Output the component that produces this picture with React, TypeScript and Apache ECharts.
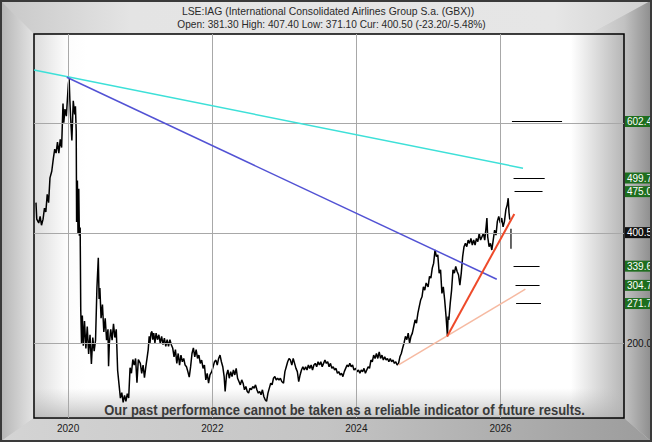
import React, { useEffect, useRef } from 'react';
import * as echarts from 'echarts';

const W = 652;
const H = 442;

// ---------- text ----------
const titleLine1 = 'LSE:IAG (International Consolidated Airlines Group S.a. (GBX))';
const titleLine2 = 'Open: 381.30 High: 407.40 Low: 371.10 Cur: 400.50 (-23.20/-5.48%)';
const disclaimer = 'Our past performance cannot be taken as a reliable indicator of future results.';

// ---------- axes ----------
const xMin = '2019-07-12';
const xMax = '2027-09-19';
const yMin = 63.8;
const yMax = 761.3;
const yearTicks = ['2020', '2022', '2024', '2026'];
const gridValues = [200, 400, 600];

// ---------- price (GBX) ----------
const prices2019: [string, number][] = [
  ['2019-07-22', 455], ['2019-07-26', 425], ['2019-08-05', 418], ['2019-08-12', 430], ['2019-08-19', 414],
  ['2019-08-27', 425], ['2019-09-03', 445], ['2019-09-10', 438], ['2019-09-17', 470], ['2019-09-24', 455],
  ['2019-10-01', 500], ['2019-10-10', 512], ['2019-10-18', 535], ['2019-10-25', 552], ['2019-11-01', 545],
  ['2019-11-08', 565], ['2019-11-15', 545], ['2019-11-22', 570], ['2019-11-29', 555], ['2019-12-06', 635],
  ['2019-12-10', 600], ['2019-12-16', 625], ['2019-12-23', 612],
];
const prices2020: [string, number][] = [
  ['2020-01-02', 670], ['2020-01-06', 681], ['2020-01-10', 640], ['2020-01-15', 600], ['2020-01-20', 568],
  ['2020-01-27', 640], ['2020-02-03', 615], ['2020-02-07', 630], ['2020-02-11', 585], ['2020-02-13', 420],
  ['2020-02-17', 495], ['2020-02-20', 400], ['2020-02-24', 480], ['2020-02-27', 395], ['2020-03-02', 410],
  ['2020-03-05', 260], ['2020-03-09', 200], ['2020-03-13', 250], ['2020-03-18', 195], ['2020-03-24', 240],
  ['2020-03-31', 190], ['2020-04-07', 230], ['2020-04-14', 180], ['2020-04-21', 215], ['2020-04-28', 162],
  ['2020-05-05', 210], ['2020-05-12', 185], ['2020-05-19', 205], ['2020-05-26', 300], ['2020-06-02', 355],
  ['2020-06-06', 280], ['2020-06-10', 300], ['2020-06-16', 245], ['2020-06-23', 270], ['2020-06-30', 220],
  ['2020-07-07', 245], ['2020-07-14', 205], ['2020-07-21', 225], ['2020-07-24', 158], ['2020-07-28', 200],
  ['2020-08-04', 225], ['2020-08-11', 205], ['2020-08-18', 235], ['2020-08-25', 210], ['2020-09-01', 225],
  ['2020-09-08', 150], ['2020-09-15', 125], ['2020-09-22', 100], ['2020-09-29', 110], ['2020-10-06', 92],
  ['2020-10-13', 105], ['2020-10-20', 94], ['2020-10-27', 108], ['2020-11-03', 100], ['2020-11-10', 155],
  ['2020-11-17', 145], ['2020-11-24', 170], ['2020-12-01', 160], ['2020-12-08', 172], ['2020-12-15', 128],
  ['2020-12-22', 170],
];
const prices2021: [string, number][] = [
  ['2021-01-01', 163], ['2021-01-08', 145], ['2021-01-15', 160], ['2021-01-22', 137], ['2021-01-29', 157],
  ['2021-02-05', 175], ['2021-02-10', 188], ['2021-02-15', 212], ['2021-02-19', 200], ['2021-02-24', 218],
  ['2021-03-01', 221], ['2021-03-05', 206], ['2021-03-10', 218], ['2021-03-16', 200], ['2021-03-22', 218],
  ['2021-03-29', 206], ['2021-04-05', 215], ['2021-04-12', 200], ['2021-04-19', 212], ['2021-04-26', 197],
  ['2021-05-03', 209], ['2021-05-10', 194], ['2021-05-17', 206], ['2021-05-24', 194], ['2021-05-31', 206],
  ['2021-06-07', 197], ['2021-06-14', 191], ['2021-06-21', 175], ['2021-06-28', 188], ['2021-07-05', 163],
  ['2021-07-12', 181], ['2021-07-19', 160], ['2021-07-26', 178], ['2021-08-02', 166], ['2021-08-09', 172],
  ['2021-08-16', 160], ['2021-08-23', 157], ['2021-08-30', 148], ['2021-09-06', 138], ['2021-09-13', 157],
  ['2021-09-20', 181], ['2021-09-27', 191], ['2021-10-04', 175], ['2021-10-11', 188], ['2021-10-18', 172],
  ['2021-10-25', 178], ['2021-11-01', 163], ['2021-11-08', 169], ['2021-11-15', 154], ['2021-11-22', 160],
  ['2021-11-29', 133], ['2021-12-06', 145], ['2021-12-13', 127], ['2021-12-20', 142], ['2021-12-29', 148],
];
const prices2022: [string, number][] = [
  ['2022-01-05', 157], ['2022-01-12', 166], ['2022-01-19', 169], ['2022-01-26', 160], ['2022-02-02', 172],
  ['2022-02-09', 178], ['2022-02-16', 166], ['2022-02-23', 157], ['2022-03-02', 139], ['2022-03-07', 112],
  ['2022-03-14', 142], ['2022-03-21', 151], ['2022-03-28', 136], ['2022-04-04', 148], ['2022-04-11', 139],
  ['2022-04-18', 151], ['2022-04-25', 142], ['2022-05-02', 154], ['2022-05-09', 136], ['2022-05-16', 130],
  ['2022-05-23', 124], ['2022-05-30', 133], ['2022-06-06', 127], ['2022-06-13', 115], ['2022-06-20', 121],
  ['2022-06-27', 112], ['2022-07-04', 109], ['2022-07-11', 118], ['2022-07-18', 115], ['2022-07-25', 121],
  ['2022-08-01', 118], ['2022-08-08', 124], ['2022-08-15', 115], ['2022-08-22', 109], ['2022-08-29', 112],
  ['2022-09-05', 106], ['2022-09-12', 115], ['2022-09-19', 103], ['2022-09-26', 97], ['2022-10-03', 94],
  ['2022-10-10', 109], ['2022-10-17', 118], ['2022-10-24', 127], ['2022-10-31', 124], ['2022-11-07', 136],
  ['2022-11-14', 139], ['2022-11-21', 133], ['2022-11-28', 136], ['2022-12-05', 133], ['2022-12-12', 136],
  ['2022-12-19', 130], ['2022-12-28', 127],
];
const prices2023: [string, number][] = [
  ['2023-01-04', 148], ['2023-01-11', 157], ['2023-01-18', 166], ['2023-01-25', 172], ['2023-02-01', 169],
  ['2023-02-08', 160], ['2023-02-15', 172], ['2023-02-22', 163], ['2023-03-01', 154], ['2023-03-08', 148],
  ['2023-03-15', 130], ['2023-03-22', 142], ['2023-03-29', 151], ['2023-04-05', 157], ['2023-04-12', 151],
  ['2023-04-19', 157], ['2023-04-26', 151], ['2023-05-03', 160], ['2023-05-10', 154], ['2023-05-17', 160],
  ['2023-05-24', 151], ['2023-05-31', 160], ['2023-06-07', 163], ['2023-06-14', 157], ['2023-06-21', 166],
  ['2023-06-28', 160], ['2023-07-05', 166], ['2023-07-12', 157], ['2023-07-19', 163], ['2023-07-26', 169],
  ['2023-08-02', 163], ['2023-08-09', 166], ['2023-08-16', 157], ['2023-08-23', 163], ['2023-08-30', 154],
  ['2023-09-06', 157], ['2023-09-13', 151], ['2023-09-20', 154], ['2023-09-27', 145], ['2023-10-04', 148],
  ['2023-10-11', 142], ['2023-10-18', 145], ['2023-10-25', 139], ['2023-11-01', 148], ['2023-11-08', 154],
  ['2023-11-15', 160], ['2023-11-22', 157], ['2023-11-29', 163], ['2023-12-06', 157], ['2023-12-13', 160],
  ['2023-12-20', 151], ['2023-12-29', 154],
];
const prices2024: [string, number][] = [
  ['2024-01-05', 148], ['2024-01-12', 151], ['2024-01-19', 145], ['2024-01-26', 151], ['2024-02-02', 148],
  ['2024-02-09', 154], ['2024-02-16', 145], ['2024-02-23', 151], ['2024-03-01', 157], ['2024-03-08', 154],
  ['2024-03-15', 169], ['2024-03-22', 166], ['2024-03-29', 178], ['2024-04-05', 172], ['2024-04-12', 181],
  ['2024-04-19', 172], ['2024-04-26', 184], ['2024-05-03', 172], ['2024-05-10', 178], ['2024-05-17', 169],
  ['2024-05-24', 175], ['2024-05-31', 169], ['2024-06-07', 172], ['2024-06-14', 166], ['2024-06-21', 172],
  ['2024-06-28', 166], ['2024-07-05', 169], ['2024-07-12', 163], ['2024-07-19', 166], ['2024-07-26', 160],
  ['2024-08-02', 163], ['2024-08-09', 175], ['2024-08-16', 181], ['2024-08-23', 191], ['2024-08-30', 200],
  ['2024-09-06', 212], ['2024-09-13', 206], ['2024-09-20', 218], ['2024-09-27', 200], ['2024-10-04', 212],
  ['2024-10-11', 218], ['2024-10-18', 230], ['2024-10-25', 242], ['2024-11-01', 236], ['2024-11-08', 254],
  ['2024-11-15', 266], ['2024-11-22', 278], ['2024-11-29', 284], ['2024-12-06', 302], ['2024-12-13', 296],
  ['2024-12-20', 309], ['2024-12-30', 302],
];
const prices2025: [string, number][] = [
  ['2025-01-06', 321], ['2025-01-13', 318], ['2025-01-20', 336], ['2025-01-27', 345], ['2025-02-03', 369],
  ['2025-02-10', 357], ['2025-02-17', 360], ['2025-02-24', 327], ['2025-03-03', 333], ['2025-03-10', 290],
  ['2025-03-17', 302], ['2025-03-24', 278], ['2025-03-31', 248], ['2025-04-07', 212], ['2025-04-10', 248],
  ['2025-04-14', 242], ['2025-04-21', 272], ['2025-04-28', 296], ['2025-05-05', 333], ['2025-05-12', 327],
  ['2025-05-19', 339], ['2025-05-26', 330], ['2025-06-02', 324], ['2025-06-09', 305], ['2025-06-16', 327],
  ['2025-06-23', 357], ['2025-06-30', 375], ['2025-07-07', 381], ['2025-07-14', 375], ['2025-07-21', 387],
  ['2025-07-28', 381], ['2025-08-04', 390], ['2025-08-11', 378], ['2025-08-18', 387], ['2025-08-25', 378],
  ['2025-09-01', 390], ['2025-09-08', 384], ['2025-09-15', 399], ['2025-09-22', 387], ['2025-09-29', 393],
  ['2025-10-06', 399], ['2025-10-13', 387], ['2025-10-20', 411], ['2025-10-24', 427], ['2025-10-28', 393],
  ['2025-11-04', 375], ['2025-11-11', 381], ['2025-11-18', 369], ['2025-11-25', 387], ['2025-12-02', 405],
  ['2025-12-09', 396], ['2025-12-16', 421], ['2025-12-23', 430], ['2025-12-31', 418],
];
const prices2026: [string, number][] = [
  ['2026-01-07', 427], ['2026-01-14', 411], ['2026-01-21', 421], ['2026-01-28', 442], ['2026-02-04', 451],
  ['2026-02-09', 463], ['2026-02-13', 437], ['2026-02-17', 424],
];

// last session (Open / High / Low / Close)
const lastDate = '2026-02-23';
const lastOHLC = { open: 381.3, high: 407.4, low: 371.1, close: 400.5 };

// ---------- trend lines ----------
const cyanTrend: [string, number][] = [['2019-07-12', 695.9], ['2026-04-25', 517.5]];
const blueTrend: [string, number][] = [['2019-12-25', 682.7], ['2025-12-13', 315.9]];
const redTrend: [string, number][] = [['2025-04-05', 211.7], ['2026-03-12', 434.5]];
const salmonTrend: [string, number][] = [['2024-08-02', 160.4], ['2026-05-07', 297.8]];

// ---------- target levels ----------
const levelValues = [602.4, 499.7, 475.0, 339.6, 304.7, 271.7];
const levelStarts = ['2026-02-28', '2026-03-08', '2026-03-13', '2026-03-08', '2026-03-18', '2026-03-21'];
const levelEnds = ['2026-11-09', '2026-08-13', '2026-08-02', '2026-07-18', '2026-07-18', '2026-07-25'];
const currentPrice = 400.5;

// ---------- helpers ----------
const t = (s: string) => {
  const [y, m, d] = s.split('-').map(Number);
  return new Date(y, m - 1, d).getTime();
};
const toData = (arr: [string, number][]) => arr.map(([d, v]) => [t(d), v]);

const FONT = '"Liberation Sans", Arial, sans-serif';
const HIDDEN_LINE = { color: 'rgba(0,0,0,0)', width: 1, type: 'solid' };

export default function App() {
  const ref = useRef<HTMLDivElement>(null);

  useEffect(() => {
    document.body.style.margin = '0';
    const el = ref.current!;
    const chart = echarts.init(el, null, { renderer: 'svg', width: W, height: H });

    const ctx = document.createElement('canvas').getContext('2d')!;
    ctx.font = '11px "Liberation Sans"';
    const fs1 = (11 * 293) / ctx.measureText(titleLine1).width;
    const fs2 = (11 * 309) / ctx.measureText(titleLine2).width;
    ctx.font = 'bold 14px "Liberation Sans"';
    const discScale = 481 / ctx.measureText(disclaimer).width;

    const LG = echarts.graphic.LinearGradient;

    const allPrices = [
      ...prices2019, ...prices2020, ...prices2021, ...prices2022,
      ...prices2023, ...prices2024, ...prices2025, ...prices2026,
    ];

    const trendSeries = (name: string, data: [string, number][], color: string, width: number) => ({
      type: 'line',
      name,
      data: toData(data),
      showSymbol: false,
      symbol: 'none',
      silent: true,
      z: 5,
      lineStyle: { color, width },
    });

    const boxLabel = (v: number, bg: string) => ({
      show: true, position: 'end', formatter: v.toFixed(1), color: '#fff',
      backgroundColor: bg, padding: [1, 3, 0, 2], fontSize: 10, lineHeight: 10,
      fontFamily: FONT, distance: 1, opacity: 1,
    });

    const option: any = {
      animation: false,
      grid: {
        left: 34,
        top: 34,
        right: 28,
        bottom: 24,
        show: true,
        borderColor: '#000',
        borderWidth: 1.5,
        backgroundColor: new LG(0, 0, 1, 0, [
          { offset: 0, color: '#dcdcdc' },
          { offset: 0.055, color: '#fcfcfc' },
          { offset: 0.09, color: '#ffffff' },
          { offset: 0.91, color: '#ffffff' },
          { offset: 1, color: '#b6b6b6' },
        ]),
      },
      xAxis: {
        type: 'time',
        min: t(xMin),
        max: t(xMax),
        axisLine: { show: false },
        axisTick: { show: false },
        axisLabel: { show: false },
        splitLine: { show: false },
      },
      yAxis: {
        type: 'value',
        min: yMin,
        max: yMax,
        axisLine: { show: false },
        axisTick: { show: false },
        axisLabel: { show: false },
        splitLine: { show: false },
      },
      graphic: [
        { type: 'rect', z: -5, shape: { x: 0, y: 0, width: W, height: H }, style: { fill: '#cfcfcf' } },
        {
          type: 'polygon', z: -4,
          shape: { points: [[0, 0], [W, 0], [590, 34], [34, 34]] },
          style: {
            fill: new LG(0, 0, 1, 0, [
              { offset: 0, color: '#c8c8c8' },
              { offset: 0.2, color: '#e4e4e4' },
              { offset: 0.85, color: '#e6e6e6' },
              { offset: 1, color: '#d0d0d0' },
            ]),
          },
        },
        {
          type: 'polygon', z: -4,
          shape: { points: [[0, 0], [34, 34], [34, 418], [0, H]] },
          style: {
            fill: new LG(0, 0, 1, 0, [
              { offset: 0, color: '#b4b4b4' },
              { offset: 1, color: '#e4e4e4' },
            ]),
          },
        },
        {
          type: 'polygon', z: -4,
          shape: { points: [[W, 0], [590, 34], [624, 34], [624, 418], [W, H]] },
          style: {
            fill: new LG(0, 0, 1, 0, [
              { offset: 0, color: '#dcdcdc' },
              { offset: 0.55, color: '#c2c2c2' },
              { offset: 1, color: '#8c8c8c' },
            ]),
          },
        },
        {
          type: 'polygon', z: -4,
          shape: { points: [[0, H], [34, 418], [624, 418], [W, H]] },
          style: {
            fill: new LG(0, 0, 1, 0, [
              { offset: 0, color: '#d4d4d4' },
              { offset: 0.5, color: '#c4c4c4' },
              { offset: 1, color: '#9c9c9c' },
            ]),
          },
        },
        {
          type: 'rect', z: 20, silent: true,
          shape: { x: 1, y: 1, width: W - 2, height: H - 2 },
          style: { fill: 'none', stroke: '#3a3a3a', lineWidth: 2 },
        },
        {
          type: 'rect', z: 0.5, silent: true,
          shape: { x: 35, y: 388, width: 588, height: 29 },
          style: {
            fill: new LG(0, 0, 0, 1, [
              { offset: 0, color: 'rgba(190,190,190,0)' },
              { offset: 1, color: 'rgba(175,175,175,0.7)' },
            ]),
          },
        },
        {
          type: 'text', z: 10, x: 328, y: 11.5,
          style: {
            text: titleLine1, fill: '#2a2a2a', font: `${fs1.toFixed(2)}px ${FONT}`,
            textAlign: 'center', textVerticalAlign: 'middle', align: 'center', verticalAlign: 'middle',
          },
        },
        {
          type: 'text', z: 10, x: 331.5, y: 24.5,
          style: {
            text: titleLine2, fill: '#2a2a2a', font: `${fs2.toFixed(2)}px ${FONT}`,
            textAlign: 'center', textVerticalAlign: 'middle', align: 'center', verticalAlign: 'middle',
          },
        },
        {
          type: 'text', z: 10, x: 344.5, y: 410.7, scaleX: discScale,
          style: {
            text: disclaimer, fill: '#3a3a3a', font: `bold 14px ${FONT}`,
            textAlign: 'center', textVerticalAlign: 'middle', align: 'center', verticalAlign: 'middle',
          },
        },
      ],
      series: [
        {
          type: 'line',
          name: 'grid',
          data: [],
          z: 1,
          silent: true,
          markLine: {
            silent: true,
            symbol: ['none', 'none'],
            lineStyle: { color: '#a8a8a8', width: 1, type: 'solid' },
            label: { show: false },
            data: [
              ...yearTicks.map((y) => ({
                xAxis: t(`${y}-01-01`),
                label: {
                  show: true, position: 'start', formatter: y, color: '#1a1a1a',
                  fontSize: 10, fontFamily: FONT, distance: 5,
                },
              })),
              ...gridValues.map((v) => ({
                yAxis: v,
                label: v === 200
                  ? { show: true, position: 'end', formatter: v.toFixed(1), color: '#111', fontSize: 10, fontFamily: FONT, distance: 3 }
                  : { show: false },
              })),
            ],
          },
        },
        {
          type: 'line',
          name: 'LSE:IAG',
          data: toData(allPrices),
          showSymbol: false,
          symbol: 'none',
          z: 4,
          lineStyle: { color: '#000', width: 1.5 },
        },
        {
          type: 'line',
          name: 'Last session',
          data: [[t(lastDate), lastOHLC.low], [t(lastDate), lastOHLC.high]],
          showSymbol: false,
          symbol: 'none',
          z: 4,
          lineStyle: { color: '#000', width: 1.2 },
        },
        trendSeries('cyan', cyanTrend, '#3de0d8', 1.5),
        trendSeries('blue', blueTrend, '#5252d4', 1.5),
        trendSeries('salmon', salmonTrend, '#f6baa2', 1.5),
        trendSeries('red', redTrend, '#ee4a2a', 2),
        {
          type: 'line',
          name: 'levels',
          data: [],
          z: 6,
          silent: true,
          markLine: {
            silent: true,
            symbol: ['none', 'none'],
            label: { show: false },
            lineStyle: { color: '#000', width: 1, type: 'solid' },
            data: levelValues.map((v, i) => [
              { coord: [t(levelStarts[i]), v] },
              { coord: [t(levelEnds[i]), v] },
            ]),
          },
        },
        {
          type: 'line',
          name: 'boxes',
          data: [],
          z: 7,
          silent: true,
          markLine: {
            silent: true,
            symbol: ['none', 'none'],
            lineStyle: HIDDEN_LINE,
            label: { show: true },
            data: [
              ...levelValues.map((v) => ({ yAxis: v, label: boxLabel(v, '#1e6e1e') })),
              { yAxis: currentPrice, label: boxLabel(currentPrice, '#111') },
            ],
          },
        },
      ],
    };

    chart.setOption(option);
    return () => chart.dispose();
  }, []);

  return <div ref={ref} style={{ position: 'absolute', left: 0, top: 0, width: W, height: H }} />;
}
